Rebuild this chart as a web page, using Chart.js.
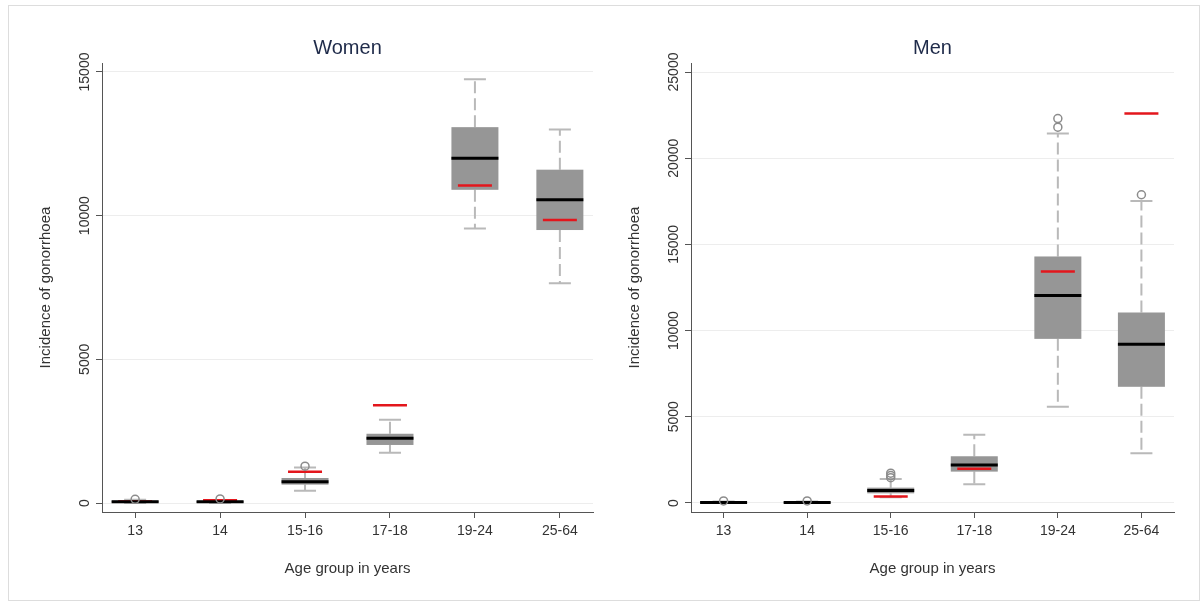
<!DOCTYPE html>
<html>
<head>
<meta charset="utf-8">
<script src="https://cdn.jsdelivr.net/npm/chart.js@4.4.1/dist/chart.umd.min.js"></script>
<style>
body { margin: 0; background: #fff; font-family: "Liberation Sans", Arial, sans-serif; }
#frame { position: absolute; left: 8px; top: 5px; width: 1190px; height: 594px; border: 1px solid #dddddd; }
.panel { position: absolute; top: 0; }
</style>
</head>
<body>
<div id="frame"></div>
<div class="panel" style="left:0"><canvas id="women" width="600" height="603"></canvas></div>
<div class="panel" style="left:600px"><canvas id="men" width="603" height="603"></canvas></div>
<script>
// age groups on the x axis
const ageGroups = ['13', '14', '15-16', '17-18', '19-24', '25-64'];

// women
const womenYTicks = [0, 5000, 10000, 15000];
const womenLowerWhisker = [0, 0, 430, 1750, 9550, 7650];
const womenQ1 = [15, 10, 640, 2020, 10900, 9500];
const womenMedian = [45, 40, 740, 2250, 12000, 10550];
const womenQ3 = [80, 75, 870, 2410, 13080, 11600];
const womenUpperWhisker = [110, 100, 1240, 2900, 14750, 13000];
const womenMean = [50, 100, 1090, 3400, 11050, 9850];
const womenOutliers = [[130], [140], [1280], [], [], []];

// men
const menYTicks = [0, 5000, 10000, 15000, 20000, 25000];
const menLowerWhisker = [0, 0, 330, 1090, 5580, 2880];
const menQ1 = [10, 10, 560, 1820, 9520, 6740];
const menMedian = [35, 35, 720, 2210, 12040, 9210];
const menQ3 = [60, 60, 890, 2710, 14300, 11050];
const menUpperWhisker = [90, 90, 1390, 3960, 21440, 17520];
const menMean = [30, 30, 370, 1990, 13430, 22600];
const menOutliers = [[120], [120], [1470, 1590, 1730], [], [21800, 22300], [17880]];

// boxes, whiskers, medians and means, drawn with the chart's scales
const boxPlugin = {
  id: 'boxes',
  beforeDatasetsDraw(chart, args, opts) {
    const ctx = chart.ctx;
    const x = chart.scales.x;
    const y = chart.scales.y;
    const boxW = 47, capW = 22, meanW = 34;
    ctx.save();
    opts.median.forEach((m, i) => {
      const cx = x.getPixelForValue(i + 1);
      const lo = y.getPixelForValue(opts.lower[i]);
      const q1 = y.getPixelForValue(opts.q1[i]);
      const q3 = y.getPixelForValue(opts.q3[i]);
      const hi = y.getPixelForValue(opts.upper[i]);
      // whiskers
      ctx.strokeStyle = '#b9b9b9';
      ctx.lineWidth = 2;
      ctx.setLineDash([12, 5]);
      ctx.beginPath();
      ctx.moveTo(cx, q3); ctx.lineTo(cx, hi);
      ctx.moveTo(cx, q1); ctx.lineTo(cx, lo);
      ctx.stroke();
      ctx.setLineDash([]);
      ctx.beginPath();
      ctx.moveTo(cx - capW / 2, hi); ctx.lineTo(cx + capW / 2, hi);
      ctx.moveTo(cx - capW / 2, lo); ctx.lineTo(cx + capW / 2, lo);
      ctx.stroke();
      // box
      ctx.fillStyle = '#969696';
      ctx.fillRect(cx - boxW / 2, q3, boxW, Math.max(q1 - q3, 1));
      // mean
      const my = y.getPixelForValue(opts.mean[i]);
      ctx.strokeStyle = '#e3161c';
      ctx.lineWidth = 2.5;
      ctx.beginPath();
      ctx.moveTo(cx - meanW / 2, my); ctx.lineTo(cx + meanW / 2, my);
      ctx.stroke();
      // median
      const md = y.getPixelForValue(m);
      ctx.strokeStyle = '#000';
      ctx.lineWidth = 3;
      ctx.beginPath();
      ctx.moveTo(cx - boxW / 2, md); ctx.lineTo(cx + boxW / 2, md);
      ctx.stroke();
    });
    ctx.restore();
  }
};

function makeChart(id, title, stats, yTicks, yMin, yMax, axisWidth, titlePad, rightPad) {
  const points = [];
  stats.outliers.forEach((list, i) => list.forEach(v => points.push({ x: i + 1, y: v })));
  return new Chart(document.getElementById(id), {
    type: 'scatter',
    data: {
      datasets: [{
        data: points,
        pointStyle: 'circle',
        radius: 4,
        borderWidth: 1.5,
        borderColor: '#8c8c8c',
        backgroundColor: 'rgba(0,0,0,0)'
      }]
    },
    plugins: [boxPlugin],
    options: {
      responsive: false,
      animation: false,
      layout: { padding: { left: 0, right: rightPad, top: 0, bottom: 0 } },
      plugins: {
        legend: { display: false },
        tooltip: { enabled: false },
        title: {
          display: true, text: title, fullSize: false, color: '#1f2b4a',
          font: { family: 'Liberation Sans', size: 20, weight: 'normal' },
          padding: { top: 36, bottom: 3 }
        },
        boxes: stats
      },
      scales: {
        x: {
          type: 'linear', min: 0.61, max: 6.39,
          afterBuildTicks: s => { s.ticks = ageGroups.map((_, i) => ({ value: i + 1 })); },
          afterFit: s => { s.height = 91; },
          grid: { drawOnChartArea: false, tickLength: 6, tickColor: '#555' },
          border: { color: '#555', width: 1 },
          ticks: {
            padding: 5, color: '#333',
            font: { family: 'Liberation Sans', size: 14 },
            callback: v => ageGroups[v - 1]
          },
          title: {
            display: true, text: 'Age group in years', color: '#333',
            font: { family: 'Liberation Sans', size: 15 },
            padding: { top: 0, bottom: 25 }
          }
        },
        y: {
          min: yMin, max: yMax,
          afterBuildTicks: s => { s.ticks = yTicks.map(v => ({ value: v })); },
          afterFit: s => { s.width = axisWidth; },
          grid: { color: '#ededed', tickLength: 6, tickColor: '#555' },
          border: { color: '#555', width: 1 },
          ticks: {
            minRotation: 90, maxRotation: 90, crossAlign: 'center', padding: -8.5,
            color: '#333', font: { family: 'Liberation Sans', size: 14 },
            callback: v => String(v)
          },
          title: {
            display: true, text: 'Incidence of gonorrhoea', color: '#333',
            font: { family: 'Liberation Sans', size: 15 },
            padding: { top: titlePad, bottom: 0 }
          }
        }
      }
    }
  });
}

makeChart('women', 'Women', {
  lower: womenLowerWhisker, q1: womenQ1, median: womenMedian, q3: womenQ3,
  upper: womenUpperWhisker, mean: womenMean, outliers: womenOutliers
}, womenYTicks, -313, 15313, 102, 37, 7);

makeChart('men', 'Men', {
  lower: menLowerWhisker, q1: menQ1, median: menMedian, q3: menQ3,
  upper: menUpperWhisker, mean: menMean, outliers: menOutliers
}, menYTicks, -523, 25523, 91, 26, 29);
</script>
</body>
</html>
